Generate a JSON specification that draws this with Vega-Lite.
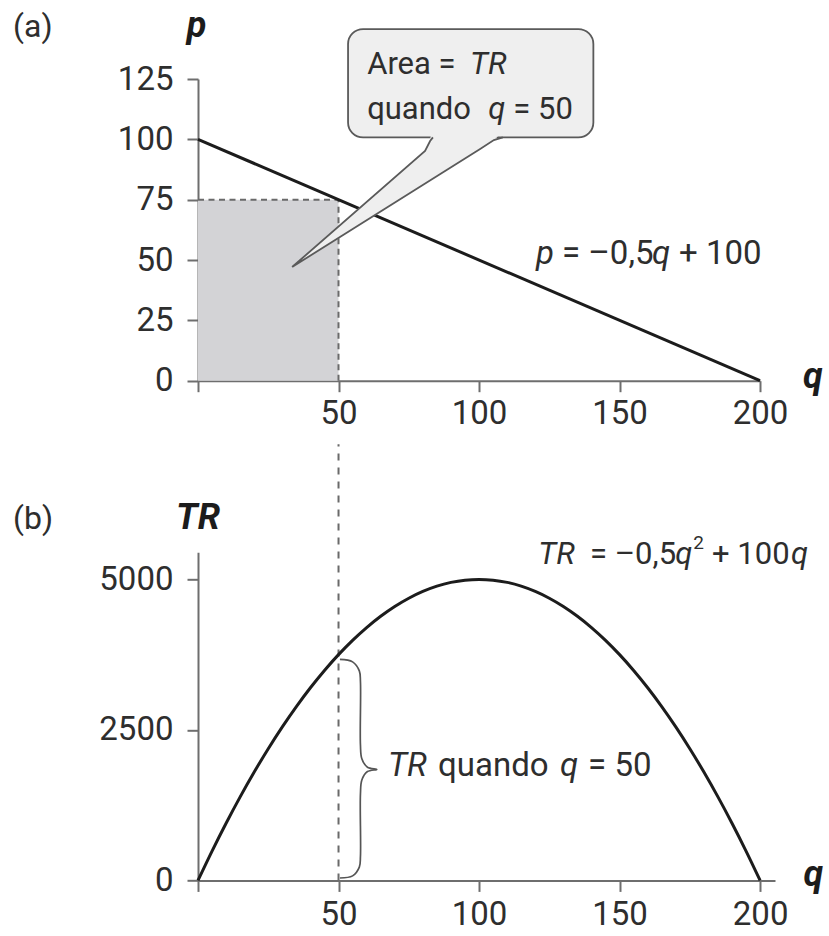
{
  "$schema": "https://vega.github.io/schema/vega-lite/v6.json",
  "background": "white",
  "padding": {"left": 13, "top": 7, "right": 4, "bottom": 4},
  "spacing": 171.3,
  "bounds": "flush",
  "config": {
    "view": {"stroke": null},
    "font": "Roboto",
    "axis": {
      "domainColor": "#6e6e6e",
      "domainWidth": 2,
      "tickColor": "#6e6e6e",
      "tickWidth": 2,
      "tickSize": 11,
      "labelFont": "Roboto",
      "labelFontSize": 33,
      "labelColor": "#2e2e2e",
      "grid": false,
      "labelFlush": false,
      "labelOverlap": false
    }
  },
  "vconcat": [
    {
      "width": 562,
      "height": 301.7,
      "layer": [
        {
          "data": {"values": [{"q": 0, "q2": 50, "p": 0, "p2": 75}]},
          "mark": {"type": "rect", "fill": "#d3d3d6"},
          "encoding": {
            "x": {
              "field": "q", "type": "quantitative",
              "scale": {"domain": [0, 200], "nice": false, "zero": false},
              "axis": {"values": [0, 50, 100, 150, 200], "format": "d", "labelExpr": "datum.value == 0 ? '' : datum.label", "labelPadding": 6, "title": null}
            },
            "x2": {"field": "q2"},
            "y": {
              "field": "p", "type": "quantitative",
              "scale": {"domain": [0, 125], "nice": false, "zero": false},
              "axis": {"values": [0, 25, 50, 75, 100, 125], "format": "d", "labelPadding": 14, "title": null}
            },
            "y2": {"field": "p2"}
          }
        },
        {
          "data": {"values": [
            {"q": 0, "q2": 50, "p": 75, "p2": 75},
            {"q": 50, "q2": 50, "p": 0, "p2": 75}
          ]},
          "mark": {"type": "rule", "color": "#6a6a6a", "strokeWidth": 2, "strokeDash": [6, 4.5]},
          "encoding": {
            "x": {"field": "q", "type": "quantitative"},
            "x2": {"field": "q2"},
            "y": {"field": "p", "type": "quantitative"},
            "y2": {"field": "p2"}
          }
        },
        {
          "data": {"values": [{"q": 0, "p": 100}, {"q": 200, "p": 0}]},
          "mark": {"type": "line", "color": "#1c1c1c", "strokeWidth": 3},
          "encoding": {
            "x": {"field": "q", "type": "quantitative"},
            "y": {"field": "p", "type": "quantitative"}
          }
        },
        {
          "data": {"values": [{"q": 53.4, "q2": 140.7, "p": 145.7, "p2": 100.8}]},
          "mark": {"type": "rect", "fill": "#efefef", "stroke": "#5a5a5a", "strokeWidth": 1.8, "cornerRadius": 15},
          "encoding": {
            "x": {"field": "q", "type": "quantitative"},
            "x2": {"field": "q2"},
            "y": {"field": "p", "type": "quantitative"},
            "y2": {"field": "p2"}
          }
        },
        {
          "data": {"values": [
            {"i": 1, "q": 83.3, "p": 102.6},
            {"i": 2, "q": 82.6, "p": 99.3},
            {"i": 3, "q": 80.8, "p": 95.2},
            {"i": 4, "q": 33.5, "p": 47.1},
            {"i": 5, "q": 100.4, "p": 96.0},
            {"i": 6, "q": 105.3, "p": 99.7},
            {"i": 7, "q": 107.5, "p": 102.6}
          ]},
          "mark": {"type": "line", "fill": "#efefef", "stroke": "#efefef", "strokeWidth": 1},
          "encoding": {
            "x": {"field": "q", "type": "quantitative"},
            "y": {"field": "p", "type": "quantitative"},
            "order": {"field": "i", "type": "quantitative"}
          }
        },
        {
          "data": {"values": [
            {"i": 1, "q": 83.6, "p": 100.8},
            {"i": 2, "q": 82.6, "p": 99.3},
            {"i": 3, "q": 80.8, "p": 95.2},
            {"i": 4, "q": 33.5, "p": 47.1},
            {"i": 5, "q": 100.4, "p": 96.0},
            {"i": 6, "q": 105.3, "p": 99.7},
            {"i": 7, "q": 108.5, "p": 100.8}
          ]},
          "mark": {"type": "line", "color": "#5a5a5a", "strokeWidth": 1.8, "strokeJoin": "miter"},
          "encoding": {
            "x": {"field": "q", "type": "quantitative"},
            "y": {"field": "p", "type": "quantitative"},
            "order": {"field": "i", "type": "quantitative"}
          }
        },
        {
          "data": {"values": [
            {"q": 60.2, "p": 127.07, "t": "Area ="},
            {"q": 60.2, "p": 108.43, "t": "quando"},
            {"q": 112.2, "p": 108.43, "t": "= 50"}
          ]},
          "mark": {"type": "text", "align": "left", "baseline": "alphabetic", "fontSize": 31, "color": "#2e2e2e"},
          "encoding": {
            "x": {"field": "q", "type": "quantitative"},
            "y": {"field": "p", "type": "quantitative"},
            "text": {"field": "t"}
          }
        },
        {
          "data": {"values": [
            {"q": 96.8, "p": 127.07, "t": "TR"},
            {"q": 103.3, "p": 108.43, "t": "q"}
          ]},
          "mark": {"type": "text", "align": "left", "baseline": "alphabetic", "fontSize": 31, "fontStyle": "italic", "color": "#2e2e2e"},
          "encoding": {
            "x": {"field": "q", "type": "quantitative"},
            "y": {"field": "p", "type": "quantitative"},
            "text": {"field": "t"}
          }
        },
        {
          "data": {"values": [
            {"q": 129.5, "p": 48.35, "t": "= –0,5"},
            {"q": 171.2, "p": 48.35, "t": "+ 100"}
          ]},
          "mark": {"type": "text", "align": "left", "baseline": "alphabetic", "fontSize": 33, "color": "#2e2e2e"},
          "encoding": {
            "x": {"field": "q", "type": "quantitative"},
            "y": {"field": "p", "type": "quantitative"},
            "text": {"field": "t"}
          }
        },
        {
          "data": {"values": [
            {"q": 120.3, "p": 48.35, "t": "p"},
            {"q": 161.6, "p": 48.35, "t": "q"}
          ]},
          "mark": {"type": "text", "align": "left", "baseline": "alphabetic", "fontSize": 33, "fontStyle": "italic", "color": "#2e2e2e"},
          "encoding": {
            "x": {"field": "q", "type": "quantitative"},
            "y": {"field": "p", "type": "quantitative"},
            "text": {"field": "t"}
          }
        },
        {
          "data": {"values": [
            {"q": -4.0, "p": 142.6, "t": "p"},
            {"q": 215.3, "p": -3.0, "t": "q"}
          ]},
          "mark": {"type": "text", "align": "left", "baseline": "alphabetic", "fontSize": 36, "fontStyle": "italic", "fontWeight": "bold", "color": "#1c1c1c"},
          "encoding": {
            "x": {"field": "q", "type": "quantitative"},
            "y": {"field": "p", "type": "quantitative"},
            "text": {"field": "t"}
          }
        },
        {
          "data": {"values": [{"q": -65.8, "p": 142.4, "t": "(a)"}]},
          "mark": {"type": "text", "align": "left", "baseline": "alphabetic", "fontSize": 32, "color": "#2e2e2e"},
          "encoding": {
            "x": {"field": "q", "type": "quantitative"},
            "y": {"field": "p", "type": "quantitative"},
            "text": {"field": "t"}
          }
        }
      ]
    },
    {
      "width": 577,
      "height": 328.1,
      "layer": [
        {
          "data": {"values": [{"q": 50, "tr": 0, "tr2": 7243}]},
          "mark": {"type": "rule", "color": "#6a6a6a", "strokeWidth": 2, "strokeDash": [7, 7]},
          "encoding": {
            "x": {
              "field": "q", "type": "quantitative",
              "scale": {"domain": [0, 205.3], "nice": false, "zero": false},
              "axis": {"values": [0, 50, 100, 150, 200], "format": "d", "labelExpr": "datum.value == 0 ? '' : datum.label", "labelPadding": 7, "title": null}
            },
            "y": {
              "field": "tr", "type": "quantitative",
              "scale": {"domain": [0, 5450], "nice": false, "zero": false},
              "axis": {"values": [0, 2500, 5000], "format": "d", "labelPadding": 14, "title": null}
            },
            "y2": {"field": "tr2"}
          }
        },
        {
          "data": {"values": [
            {"q": 0, "tr": 0}, {"q": 5, "tr": 487.5}, {"q": 10, "tr": 950}, {"q": 15, "tr": 1387.5},
            {"q": 20, "tr": 1800}, {"q": 25, "tr": 2187.5}, {"q": 30, "tr": 2550}, {"q": 35, "tr": 2887.5},
            {"q": 40, "tr": 3200}, {"q": 45, "tr": 3487.5}, {"q": 50, "tr": 3750}, {"q": 55, "tr": 3987.5},
            {"q": 60, "tr": 4200}, {"q": 65, "tr": 4387.5}, {"q": 70, "tr": 4550}, {"q": 75, "tr": 4687.5},
            {"q": 80, "tr": 4800}, {"q": 85, "tr": 4887.5}, {"q": 90, "tr": 4950}, {"q": 95, "tr": 4987.5},
            {"q": 100, "tr": 5000}, {"q": 105, "tr": 4987.5}, {"q": 110, "tr": 4950}, {"q": 115, "tr": 4887.5},
            {"q": 120, "tr": 4800}, {"q": 125, "tr": 4687.5}, {"q": 130, "tr": 4550}, {"q": 135, "tr": 4387.5},
            {"q": 140, "tr": 4200}, {"q": 145, "tr": 3987.5}, {"q": 150, "tr": 3750}, {"q": 155, "tr": 3487.5},
            {"q": 160, "tr": 3200}, {"q": 165, "tr": 2887.5}, {"q": 170, "tr": 2550}, {"q": 175, "tr": 2187.5},
            {"q": 180, "tr": 1800}, {"q": 185, "tr": 1387.5}, {"q": 190, "tr": 950}, {"q": 195, "tr": 487.5},
            {"q": 200, "tr": 0}
          ]},
          "mark": {"type": "line", "color": "#1c1c1c", "strokeWidth": 3, "interpolate": "monotone"},
          "encoding": {
            "x": {"field": "q", "type": "quantitative"},
            "y": {"field": "tr", "type": "quantitative"}
          }
        },
        {
          "data": {"values": [
            {"i": 1, "q": 50.5, "tr": 3671},
            {"i": 2, "q": 55.0, "tr": 3630},
            {"i": 3, "q": 57.4, "tr": 3480},
            {"i": 4, "q": 57.8, "tr": 3300},
            {"i": 5, "q": 57.8, "tr": 2250},
            {"i": 6, "q": 58.3, "tr": 2020},
            {"i": 7, "q": 60.3, "tr": 1880},
            {"i": 8, "q": 63.6, "tr": 1844},
            {"i": 9, "q": 60.3, "tr": 1808},
            {"i": 10, "q": 58.3, "tr": 1668},
            {"i": 11, "q": 57.8, "tr": 1440},
            {"i": 12, "q": 57.8, "tr": 400},
            {"i": 13, "q": 57.4, "tr": 220},
            {"i": 14, "q": 55.0, "tr": 75},
            {"i": 15, "q": 50.5, "tr": 40}
          ]},
          "mark": {"type": "line", "color": "#555555", "strokeWidth": 1.7, "interpolate": "catmull-rom"},
          "encoding": {
            "x": {"field": "q", "type": "quantitative"},
            "y": {"field": "tr", "type": "quantitative"},
            "order": {"field": "i", "type": "quantitative"}
          }
        },
        {
          "data": {"values": [
            {"q": 139.5, "tr": 5249, "t": "= –0,5"},
            {"q": 182.9, "tr": 5249, "t": "+ 100"}
          ]},
          "mark": {"type": "text", "align": "left", "baseline": "alphabetic", "fontSize": 31, "color": "#2e2e2e"},
          "encoding": {
            "x": {"field": "q", "type": "quantitative"},
            "y": {"field": "tr", "type": "quantitative"},
            "text": {"field": "t"}
          }
        },
        {
          "data": {"values": [
            {"q": 121.1, "tr": 5249, "t": "TR"},
            {"q": 169.8, "tr": 5249, "t": "q"},
            {"q": 211.0, "tr": 5249, "t": "q"}
          ]},
          "mark": {"type": "text", "align": "left", "baseline": "alphabetic", "fontSize": 31, "fontStyle": "italic", "color": "#2e2e2e"},
          "encoding": {
            "x": {"field": "q", "type": "quantitative"},
            "y": {"field": "tr", "type": "quantitative"},
            "text": {"field": "t"}
          }
        },
        {
          "data": {"values": [{"q": 176.2, "tr": 5498, "t": "2"}]},
          "mark": {"type": "text", "align": "left", "baseline": "alphabetic", "fontSize": 19, "color": "#2e2e2e"},
          "encoding": {
            "x": {"field": "q", "type": "quantitative"},
            "y": {"field": "tr", "type": "quantitative"},
            "text": {"field": "t"}
          }
        },
        {
          "data": {"values": [
            {"q": 85.4, "tr": 1733, "t": "quando"},
            {"q": 138.8, "tr": 1733, "t": "= 50"}
          ]},
          "mark": {"type": "text", "align": "left", "baseline": "alphabetic", "fontSize": 33, "color": "#2e2e2e"},
          "encoding": {
            "x": {"field": "q", "type": "quantitative"},
            "y": {"field": "tr", "type": "quantitative"},
            "text": {"field": "t"}
          }
        },
        {
          "data": {"values": [
            {"q": 67.6, "tr": 1733, "t": "TR"},
            {"q": 128.8, "tr": 1733, "t": "q"}
          ]},
          "mark": {"type": "text", "align": "left", "baseline": "alphabetic", "fontSize": 33, "fontStyle": "italic", "color": "#2e2e2e"},
          "encoding": {
            "x": {"field": "q", "type": "quantitative"},
            "y": {"field": "tr", "type": "quantitative"},
            "text": {"field": "t"}
          }
        },
        {
          "data": {"values": [
            {"q": -7.8, "tr": 5831, "t": "TR"},
            {"q": 215.4, "tr": -100, "t": "q"}
          ]},
          "mark": {"type": "text", "align": "left", "baseline": "alphabetic", "fontSize": 36, "fontStyle": "italic", "fontWeight": "bold", "color": "#1c1c1c"},
          "encoding": {
            "x": {"field": "q", "type": "quantitative"},
            "y": {"field": "tr", "type": "quantitative"},
            "text": {"field": "t"}
          }
        },
        {
          "data": {"values": [{"q": -65.8, "tr": 5834, "t": "(b)"}]},
          "mark": {"type": "text", "align": "left", "baseline": "alphabetic", "fontSize": 32, "color": "#2e2e2e"},
          "encoding": {
            "x": {"field": "q", "type": "quantitative"},
            "y": {"field": "tr", "type": "quantitative"},
            "text": {"field": "t"}
          }
        }
      ]
    }
  ]
}
